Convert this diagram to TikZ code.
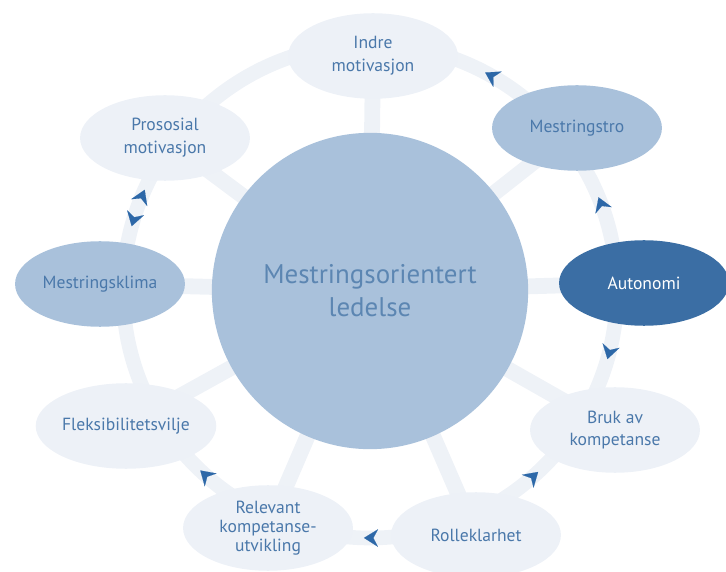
\documentclass[tikz,border=0pt]{standalone}
\usepackage{fontspec}
\setmainfont{PT Sans}
\usepackage{xcolor}
\usetikzlibrary{shapes.geometric,arrows.meta,calc,backgrounds}
\definecolor{pale}{RGB}{237,241,247}
\definecolor{band}{RGB}{238,242,247}
\definecolor{mid}{RGB}{169,193,219}
\definecolor{deep}{RGB}{59,110,164}
\definecolor{ink}{RGB}{74,120,170}
\definecolor{tipblue}{RGB}{45,104,168}
\newcommand{\ringarrow}[2]{
  \pgfmathsetmacro{\tailangle}{#1-0.4*#2}
  \pgfmathsetmacro{\tipangle}{#1+1.6*#2}
  \draw[ringtip] ($(hub)+(\tailangle:247)$) -- ($(hub)+(\tipangle:247)$);
}
\tikzstyle{goal}=[ellipse, minimum width=145pt, minimum height=73pt, inner sep=0pt, align=center, fill=pale, text=ink, font=\fontsize{15}{19.5}\selectfont]
\tikzstyle{strong}=[fill=mid]
\tikzstyle{key}=[fill=deep, text=white]
\tikzstyle{spoke}=[line width=13.5pt, color=band]
\tikzstyle{ring}=[line width=12.5pt, color=band]
\tikzset{ringtip/.style={-{Stealth[length=12pt, width=15pt, inset=4pt]}, line width=0.1pt, draw=tipblue, fill=tipblue}}
\tikzset{y=-0.03cm}
\tikzset{x=0.03cm}

\begin{document}
\begin{tikzpicture}
  \useasboundingbox (0,0) rectangle (726,572);
  \draw (370,291) node[circle, minimum size=270pt, fill=mid, text=ink!90!white, align=center, font=\fontsize{23}{28}\selectfont] (hub) {Mestringsorientert\\ledelse};

  \draw (373,56) node[goal] (indre) {Indre\\motivasjon};
  \draw (577,128) node[goal,strong] (mtro) {Mestringstro};
  \draw (644,283) node[goal,key] (auto) {Autonomi};
  \draw (615,430) node[goal] (bruk) {Bruk av\\kompetanse};
  \draw (476,535) node[goal] (rolle) {Rolleklarhet};
  \draw (268,528) node[goal, font=\fontsize{15}{16}\selectfont] (relevant) {Relevant\\kompetanse-\\utvikling};
  \draw (126,426) node[goal] (fleks) {Fleksibilitetsvilje};
  \draw (100,284) node[goal,strong] (klima) {Mestringsklima};
  \draw (165,138) node[goal] (proso) {Prososial\\motivasjon};

  %% ring and spokes behind everything
  \begin{scope}[on background layer]
    \draw[ring] (hub.center) circle[radius=247];
    \foreach \n in {indre,mtro,auto,bruk,rolle,relevant,fleks,klima,proso}
      \draw[spoke] (hub.center) -- (\n.center);
  \end{scope}

  %% direction marks on the ring
  \ringarrow{-60.6}{-1}
  \ringarrow{-20.7}{-1}
  \ringarrow{14.4}{1}
  \ringarrow{48.7}{-1}
  \ringarrow{89.8}{1}
  \ringarrow{131.8}{1}
  \ringarrow{202.6}{1}
  \ringarrow{196.8}{-1}
\end{tikzpicture}
\end{document}
